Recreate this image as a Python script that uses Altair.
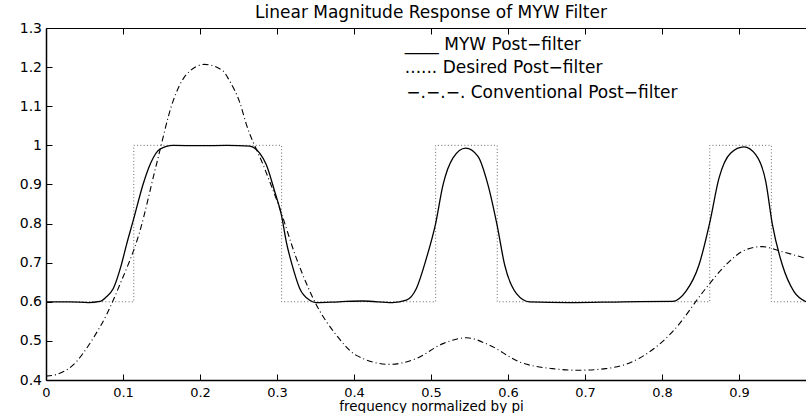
import altair as alt
import pandas as pd

# ---- data ----
freq_myw = [0.0, 0.03, 0.055, 0.07, 0.078, 0.0874, 0.0979, 0.1044, 0.1143, 0.126, 0.136,
            0.1477, 0.165, 0.20, 0.235, 0.2645, 0.2775, 0.286, 0.297, 0.3057, 0.312, 0.3208,
            0.3295, 0.3425, 0.351, 0.38, 0.4117, 0.45, 0.468, 0.481, 0.494, 0.5057, 0.5156,
            0.5286, 0.545, 0.561, 0.574, 0.5857, 0.5957, 0.611, 0.628, 0.68, 0.75, 0.8135,
            0.8308, 0.848, 0.8623, 0.874, 0.889, 0.9065, 0.9217, 0.9347, 0.9434, 0.9563,
            0.9714, 0.987]
mag_myw = [0.600, 0.600, 0.598, 0.601, 0.612, 0.634, 0.695, 0.745, 0.815, 0.900, 0.955,
           0.990, 1.000, 0.999, 1.000, 0.998, 0.980, 0.951, 0.882, 0.822, 0.754, 0.686,
           0.634, 0.604, 0.598, 0.600, 0.602, 0.598, 0.604, 0.634, 0.711, 0.797, 0.899,
           0.968, 0.993, 0.972, 0.899, 0.797, 0.694, 0.621, 0.600, 0.598, 0.600, 0.601,
           0.626, 0.694, 0.805, 0.916, 0.980, 0.996, 0.976, 0.908, 0.797, 0.694,
           0.626, 0.600]

freq_conv = [0.0, 0.009, 0.035, 0.061, 0.0784, 0.0957, 0.1217, 0.1434, 0.165, 0.1823, 0.206,
             0.2299, 0.2386, 0.2516, 0.2603, 0.2818, 0.3035, 0.3252, 0.3512, 0.377, 0.403,
             0.4464, 0.481, 0.5156, 0.546, 0.576, 0.615, 0.658, 0.693, 0.7269, 0.770,
             0.8135, 0.8568, 0.8827, 0.9087, 0.930, 0.9563, 0.987]
mag_conv = [0.410, 0.412, 0.438, 0.506, 0.566, 0.643, 0.779, 0.951, 1.113, 1.181, 1.207,
            1.190, 1.164, 1.110, 1.053, 0.951, 0.839, 0.711, 0.592, 0.515, 0.463,
            0.440, 0.455, 0.493, 0.508, 0.489, 0.446, 0.429, 0.425, 0.429, 0.455,
            0.523, 0.634, 0.694, 0.733, 0.741, 0.728, 0.711]

band_edges = [0.114, 0.306, 0.506, 0.586, 0.862, 0.942]
band_low = 0.6
band_high = 1.0
x_end = 0.987

x_ticks = [0, 0.1, 0.2, 0.3, 0.4, 0.5, 0.6, 0.7, 0.8, 0.9]
y_ticks = [0.4, 0.5, 0.6, 0.7, 0.8, 0.9, 1.0, 1.1, 1.2, 1.3]

legend_labels = ["____ MYW Post\u2212filter",
                 "...... Desired Post\u2212filter",
                 "\u2212.\u2212.\u2212. Conventional Post\u2212filter"]
legend_x = [0.466, 0.466, 0.468]
legend_y = [1.245, 1.186, 1.122]

title_text = "Linear Magnitude Response of MYW Filter"
x_title = "frequency normalized by pi"

# ---- tables ----
df_myw = pd.DataFrame({"f": freq_myw, "m": mag_myw})
df_conv = pd.DataFrame({"f": freq_conv, "m": mag_conv})

des_f = [0.0]
des_m = [band_low]
for k in range(0, len(band_edges), 2):
    a, b = band_edges[k], band_edges[k + 1]
    des_f += [a, a, b, b]
    des_m += [band_low, band_high, band_high, band_low]
des_f.append(x_end)
des_m.append(band_low)
df_des = pd.DataFrame({"f": des_f, "m": des_m, "i": list(range(len(des_f)))})

df_leg = pd.DataFrame({"f": legend_x, "m": legend_y, "t": legend_labels})

FONT = "DejaVu Sans"
xs = alt.Scale(domain=[0, x_end], nice=False, zero=False)
ys = alt.Scale(domain=[0.4, 1.3], nice=False, zero=False)
inward = {"expr": "-6"}

bottom_axis = alt.Axis(
    orient="bottom", values=x_ticks, format="~g", grid=False,
    tickSize=inward, tickColor="black", tickWidth=1,
    domainColor="black", domainWidth=1.5,
    labelFont=FONT, labelFontSize=13, labelColor="black",
    labelPadding=12, labelFlush=False, labelOverlap=False,
    title=x_title, titleFont=FONT, titleFontSize=13.5, titleFontWeight="normal",
    titleColor="black", titleBaseline="alphabetic", titleY=30, titleX=385,
    titleAlign="center",
)
top_axis = alt.Axis(
    orient="top", values=x_ticks, grid=False, labels=False, title=None,
    tickSize=inward, tickColor="black", tickWidth=1,
    domainColor="black", domainWidth=1,
)
left_axis = alt.Axis(
    orient="left", values=y_ticks, format="~g", grid=False,
    tickSize=inward, tickColor="black", tickWidth=1,
    domainColor="black", domainWidth=1.5,
    labelFont=FONT, labelFontSize=14, labelColor="black",
    labelPadding=10.5, labelFlush=False, labelOverlap=False,
    title=None,
)

desired = alt.Chart(df_des).mark_line(
    color="#666666", strokeWidth=1, strokeDash=[1, 2.3], clip=True
).encode(
    x=alt.X("f:Q", scale=xs, axis=top_axis),
    y=alt.Y("m:Q", scale=ys, axis=None),
    order=alt.Order("i:Q"),
)

myw = alt.Chart(df_myw).mark_line(
    color="black", strokeWidth=1.3, interpolate="monotone", clip=True
).encode(
    x=alt.X("f:Q", scale=xs, axis=bottom_axis),
    y=alt.Y("m:Q", scale=ys, axis=left_axis),
)

conv = alt.Chart(df_conv).mark_line(
    color="black", strokeWidth=1.1, strokeDash=[6, 3, 1, 3],
    interpolate="monotone", clip=True
).encode(
    x=alt.X("f:Q", scale=xs, axis=None),
    y=alt.Y("m:Q", scale=ys, axis=None),
)

legend = alt.Chart(df_leg).mark_text(
    align="left", baseline="alphabetic", font=FONT, fontSize=17, color="black"
).encode(
    x=alt.X("f:Q", scale=xs, axis=None),
    y=alt.Y("m:Q", scale=ys, axis=None),
    text="t:N",
)

chart = alt.layer(desired, myw, conv, legend).resolve_axis(
    x="independent", y="independent"
).properties(
    width=760,
    height=352,
    autosize=alt.AutoSizeParams(type="none"),
    padding={"left": 46, "top": 28, "right": 0, "bottom": 33},
    title=alt.TitleParams(
        title_text, font=FONT, fontSize=17, fontWeight="normal", color="black",
        anchor="middle", frame="group", offset=-1, dx=5,
    ),
    background="white",
).configure_view(stroke=None)

chart.save("out.html", embed_options={"renderer": "svg", "actions": False})
